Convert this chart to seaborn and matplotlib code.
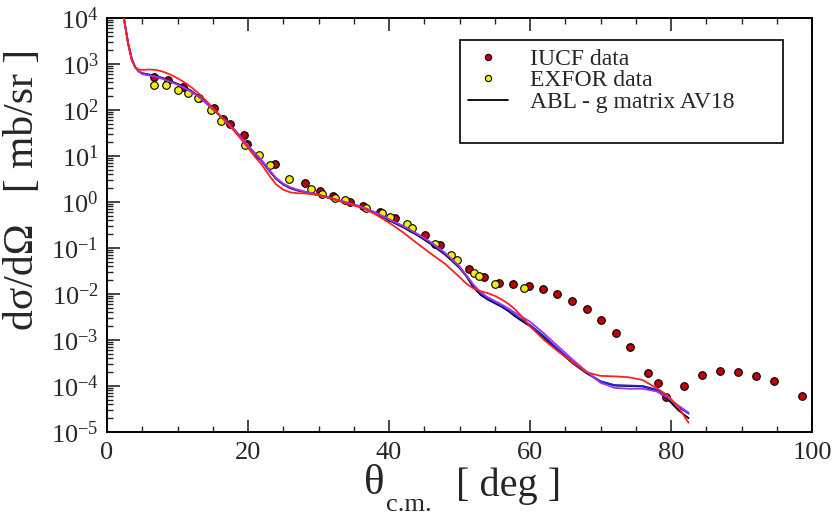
import numpy as np
import pandas as pd
import matplotlib
matplotlib.use("Agg")
import matplotlib.pyplot as plt
import seaborn as sns
from matplotlib.lines import Line2D
from matplotlib.ticker import LogLocator, MultipleLocator

# ---------------------------------------------------------------------------
# Data (cross section given as log10 of mb/sr)
# ---------------------------------------------------------------------------
iucf_theta = [6.6, 8.7, 10.8, 13.1, 15.2, 16.4, 17.4, 19.5, 19.9, 23.8, 28.1, 30.2,
              32.1, 34.4, 36.3, 38.7, 40.9, 45.1, 47.2, 51.4, 53.5, 55.6, 57.6, 59.8,
              61.8, 63.9, 65.9, 68.1, 70.1, 72.2, 74.2, 76.8, 78.1, 79.3, 81.8, 84.4,
              86.9, 89.5, 92.0, 94.6, 98.6]
iucf_log = [2.71, 2.65, 2.49, 2.27, 2.04, 1.80, 1.70, 1.46, 1.27, 0.82, 0.42, 0.24,
            0.12, 0.01, -0.09, -0.21, -0.35, -0.72, -0.93, -1.46, -1.64, -1.77, -1.78, -1.83,
            -1.90, -2.01, -2.15, -2.33, -2.57, -2.84, -3.15, -3.71, -3.94, -4.23, -4.00, -3.76,
            -3.67, -3.69, -3.78, -3.89, -4.22]

exfor_theta = [6.7, 8.4, 10.0, 11.5, 12.9, 14.7, 16.2, 19.6, 21.5, 23.1, 25.8, 28.9,
               30.5, 32.3, 33.8, 36.7, 39.0, 40.1, 42.5, 43.2, 46.5, 48.8, 49.6, 52.0,
               52.7, 55.0, 59.1]
exfor_log = [2.54, 2.54, 2.43, 2.38, 2.26, 2.00, 1.77, 1.24, 1.02, 0.80, 0.49, 0.28,
             0.17, 0.08, 0.04, -0.12, -0.23, -0.32, -0.48, -0.56, -0.92, -1.15, -1.26, -1.54,
             -1.61, -1.78, -1.86]

curve_theta = [2.0, 2.5, 3.0, 3.5, 4.0, 4.5, 5.0, 6.0, 7.0, 8.0, 9.0, 10.0, 11.0, 12.0,
               13.0, 14.0, 15.0, 16.0, 17.0, 18.0, 19.0, 20.0, 21.0, 22.0, 23.0, 24.0,
               25.0, 26.0, 27.0, 28.0, 30.0, 32.0, 34.0, 36.0, 38.0, 40.0, 42.0, 44.0,
               46.0, 48.0, 50.0, 51.0, 52.0, 53.0, 54.0, 55.0, 56.0, 57.0, 58.0, 59.0,
               60.0, 62.0, 64.0, 66.0, 68.0, 70.0, 72.0, 74.0, 76.0, 78.0, 79.5, 81.0, 82.5]

black_log = [4.45, 3.90, 3.45, 3.12, 2.93, 2.84, 2.80, 2.77, 2.74, 2.69, 2.63, 2.57, 2.50, 2.41,
             2.30, 2.17, 2.02, 1.88, 1.74, 1.58, 1.41, 1.22, 1.05, 0.88, 0.68, 0.50,
             0.38, 0.30, 0.25, 0.22, 0.15, 0.07, -0.02, -0.11, -0.24, -0.40, -0.55, -0.72,
             -0.92, -1.15, -1.43, -1.62, -1.86, -2.02, -2.12, -2.20, -2.28, -2.38, -2.50, -2.60,
             -2.70, -2.95, -3.23, -3.50, -3.72, -3.90, -3.99, -4.00, -4.01, -4.10, -4.28, -4.52, -4.70]

blue_log = [4.45, 3.90, 3.45, 3.12, 2.93, 2.84, 2.79, 2.76, 2.73, 2.68, 2.62, 2.56, 2.49, 2.40,
            2.29, 2.16, 2.02, 1.88, 1.74, 1.58, 1.41, 1.22, 1.05, 0.88, 0.69, 0.51,
            0.39, 0.31, 0.26, 0.22, 0.15, 0.07, -0.02, -0.10, -0.23, -0.38, -0.53, -0.70,
            -0.90, -1.13, -1.41, -1.60, -1.82, -1.99, -2.10, -2.18, -2.26, -2.36, -2.47, -2.57,
            -2.67, -2.92, -3.20, -3.47, -3.70, -3.90, -3.98, -3.99, -4.00, -4.08, -4.24, -4.45, -4.60]

purple_log = [4.45, 3.90, 3.45, 3.12, 2.93, 2.84, 2.78, 2.75, 2.72, 2.67, 2.61, 2.55, 2.48, 2.39,
              2.29, 2.16, 2.02, 1.88, 1.74, 1.58, 1.41, 1.23, 1.06, 0.90, 0.70, 0.52,
              0.40, 0.32, 0.27, 0.23, 0.16, 0.08, -0.01, -0.10, -0.22, -0.38, -0.52, -0.69,
              -0.88, -1.11, -1.40, -1.60, -1.80, -1.96, -2.07, -2.15, -2.23, -2.32, -2.42, -2.51,
              -2.60, -2.86, -3.14, -3.42, -3.68, -3.93, -4.04, -4.06, -4.06, -4.12, -4.25, -4.42, -4.58]

red_log = [4.45, 3.90, 3.42, 3.08, 2.93, 2.88, 2.87, 2.88, 2.87, 2.83, 2.77, 2.69, 2.60, 2.49,
           2.36, 2.21, 2.05, 1.88, 1.72, 1.55, 1.37, 1.18, 0.98, 0.80, 0.58, 0.38,
           0.27, 0.21, 0.19, 0.19, 0.15, 0.07, -0.03, -0.12, -0.26, -0.45, -0.66, -0.90,
           -1.13, -1.35, -1.63, -1.78, -1.88, -1.94, -1.98, -2.04, -2.12, -2.22, -2.35, -2.52,
           -2.70, -3.00, -3.25, -3.48, -3.70, -3.78, -3.79, -3.81, -3.87, -4.05, -4.20, -4.45, -4.80]

# ---------------------------------------------------------------------------
# Style
# ---------------------------------------------------------------------------
sns.set_style("ticks")
plt.rcParams["font.family"] = ["Liberation Serif", "DejaVu Serif"]
plt.rcParams["mathtext.fontset"] = "stix"

fig, ax = plt.subplots(figsize=(8.37, 5.16), dpi=100)
fig.subplots_adjust(left=107 / 837, right=812 / 837, bottom=1 - 432 / 516, top=1 - 18 / 516)

iucf = pd.DataFrame({"theta": iucf_theta, "xs": 10.0 ** np.array(iucf_log)})
exfor = pd.DataFrame({"theta": exfor_theta, "xs": 10.0 ** np.array(exfor_log)})

sns.scatterplot(data=iucf, x="theta", y="xs", color="#c00000", edgecolor="black",
                linewidth=0.8, s=30, zorder=3, ax=ax, legend=False)
sns.scatterplot(data=exfor, x="theta", y="xs", color="#f0f000", edgecolor="black",
                linewidth=0.8, s=30, zorder=3, ax=ax, legend=False)

curves = [(black_log, "black"), (blue_log, "#2020e8"),
          (purple_log, "#a035e8"), (red_log, "#ff2020")]
for vals, col in curves:
    sns.lineplot(x=curve_theta, y=10.0 ** np.array(vals), color=col, linewidth=1.3,
                 sort=False, estimator=None, zorder=4, ax=ax)

ax.set_yscale("log")
ax.set_xlim(0, 100)
ax.set_ylim(1e-5, 1e4)
ax.xaxis.set_major_locator(MultipleLocator(20))
ax.xaxis.set_minor_locator(MultipleLocator(5))
ax.yaxis.set_major_locator(LogLocator(base=10, numticks=20))
ax.yaxis.set_minor_locator(LogLocator(base=10, subs=np.arange(2, 10), numticks=200))

ax.tick_params(which="both", direction="in", top=True, right=False, labelsize=19)
ax.tick_params(which="major", length=9, width=1.2)
ax.tick_params(which="minor", length=4.5, width=1.0)
ax.tick_params(axis="x", pad=7)
ax.tick_params(axis="y", pad=6)
for sp in ax.spines.values():
    sp.set_linewidth(1.4)
    sp.set_color("black")

ax.set_xlabel("")
ax.set_ylabel("dσ/dΩ   [ mb/sr ]", fontsize=30, va="center")
ax.yaxis.set_label_coords(-0.12, 0.585)

# x-axis label: big theta, c.m. subscript, unit
fig.text(374 / 837, 1 - 484 / 516, "θ", fontsize=31, ha="center", va="center")
fig.text(409 / 837, 1 - 505 / 516, "c.m.", fontsize=19, ha="center", va="center")
fig.text(509 / 837, 1 - 486 / 516, "[ deg ]", fontsize=29, ha="center", va="center")

handles = [
    Line2D([], [], marker="o", linestyle="none", markerfacecolor="#c00000",
           markeredgecolor="black", markersize=4.5, markeredgewidth=0.8),
    Line2D([], [], marker="o", linestyle="none", markerfacecolor="#f0f000",
           markeredgecolor="black", markersize=4.5, markeredgewidth=0.8),
    Line2D([], [], color="black", linewidth=1.3),
    Line2D([], [], linestyle="none"),
]
labels = ["IUCF data", "EXFOR data", "ABL - g matrix AV18", " "]
leg = ax.legend(handles, labels, loc="upper left",
                bbox_to_anchor=(353 / 705, 0.0, 323 / 705, (432 - 40) / 414),
                mode="expand", borderaxespad=0, fontsize=17, frameon=True,
                fancybox=False, framealpha=1, edgecolor="black", borderpad=0.35,
                labelspacing=0.0, handlelength=1.7, handletextpad=0.9)
leg.get_frame().set_linewidth(1.2)

fig.savefig("out.png", dpi=100)
